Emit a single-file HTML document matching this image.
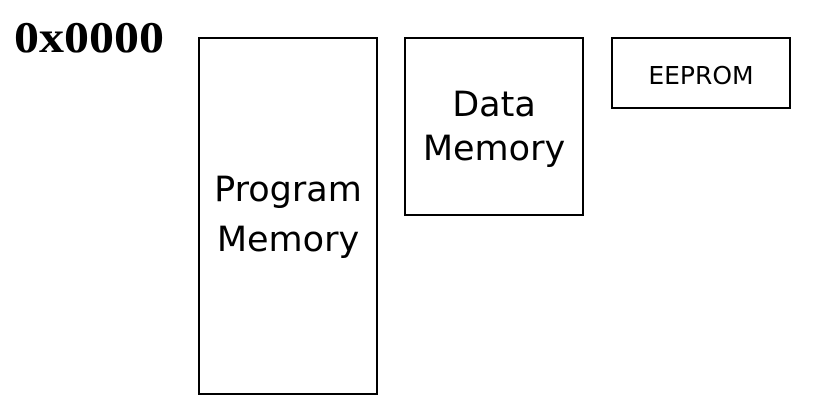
<!DOCTYPE html>
<html><head><style>
body{margin:0;width:826px;height:416px;background:#fff;position:relative;overflow:hidden;font-family:"DejaVu Sans","Liberation Sans",sans-serif}
.b{position:absolute;border:2px solid #000;box-sizing:border-box;display:flex;align-items:center;justify-content:center;text-align:center;color:#000}
</style></head><body>
<div style="position:absolute;left:14px;top:12px;font-family:'Liberation Serif',serif;font-weight:bold;font-size:50px;line-height:50px;transform:scaleY(0.88);transform-origin:0 50%">0x0000</div>
<div class="b" style="left:198px;top:37px;width:180px;height:358px;font-size:35px;line-height:50px;padding-bottom:2px">Program<br>Memory</div>
<div class="b" style="left:404px;top:37px;width:180px;height:179px;font-size:35px;line-height:44px;">Data<br>Memory</div>
<div class="b" style="left:611px;top:37px;width:180px;height:72px;font-size:25px;padding-top:4px">EEPROM</div>
</body></html>
